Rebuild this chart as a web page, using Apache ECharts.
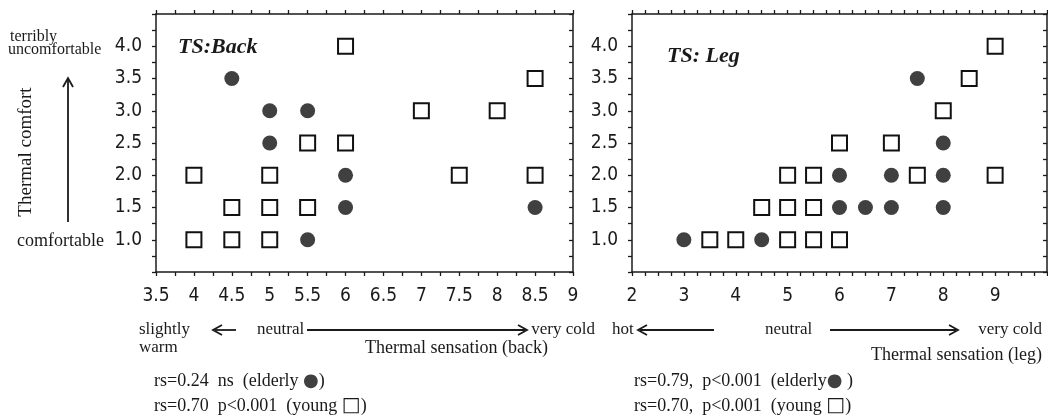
<!DOCTYPE html>
<html>
<head>
<meta charset="utf-8">
<script src="https://cdn.jsdelivr.net/npm/echarts@6/dist/echarts.min.js"></script>
<style>
  html, body { margin: 0; padding: 0; background: #fff; }
  #chart { width: 1048px; height: 418px; }
</style>
</head>
<body>
<div id="chart"></div>
<script>
// Thermal comfort (y) against thermal sensation (x), back and leg
const elderlyBack = [[4.5,3.5],[5,3.0],[5.5,3.0],[5,2.5],[6,2.0],[6,1.5],[8.5,1.5],[5.5,1.0]];
const youngBack = [[6,4.0],[8.5,3.5],[7,3.0],[8,3.0],[5.5,2.5],[6,2.5],[4,2.0],[5,2.0],[7.5,2.0],[8.5,2.0],
                   [4.5,1.5],[5,1.5],[5.5,1.5],[4,1.0],[4.5,1.0],[5,1.0]];
const elderlyLeg = [[3,1.0],[4.5,1.0],[6,1.5],[6.5,1.5],[7,1.5],[8,1.5],[6,2.0],[7,2.0],[8,2.0],[8,2.5],[7.5,3.5]];
const youngLeg = [[3.5,1.0],[4,1.0],[5,1.0],[5.5,1.0],[6,1.0],[4.5,1.5],[5,1.5],[5.5,1.5],
                  [5,2.0],[5.5,2.0],[7.5,2.0],[9,2.0],[6,2.5],[7,2.5],[8,3.0],[8.5,3.5],[9,4.0]];
const comfortRange = [0.5, 4.5];
const backRange = [3.5, 9];
const legRange = [2, 10];

const INK = '#1a1a1a';
const DOT = '#404040';
const SERIF = '"Liberation Serif", "DejaVu Serif", serif';
const NUM = '"Liberation Sans Narrow", "DejaVu Sans Condensed", sans-serif';

const chart = echarts.init(document.getElementById('chart'), null, { renderer: 'canvas' });

function xAxisDef(gridIndex, range, interval, minorSplit, position, showLabels) {
  return {
    type: 'value', gridIndex, position, min: range[0], max: range[1], interval,
    axisLine: { show: true, onZero: false, lineStyle: { color: INK, width: 1.5 } },
    axisTick: { show: true, inside: false, length: 4, lineStyle: { color: INK, width: 1.3 } },
    minorTick: { show: true, splitNumber: minorSplit, length: 4, lineStyle: { color: INK, width: 1.3 } },
    splitLine: { show: false },
    axisLabel: {
      show: showLabels, margin: 15, color: INK, fontFamily: NUM, fontSize: 19,
      showMaxLabel: range[1] !== 10, formatter: v => (v === 10 ? '' : String(v))
    }
  };
}
function yAxisDef(gridIndex, position, inside, showLabels) {
  return {
    type: 'value', gridIndex, position, min: comfortRange[0], max: comfortRange[1], interval: 0.5,
    axisLine: { show: true, onZero: false, lineStyle: { color: INK, width: 1.5 } },
    axisTick: { show: true, inside, length: 4, lineStyle: { color: INK, width: 1.3 } },
    minorTick: { show: true, splitNumber: 2, length: 4, lineStyle: { color: INK, width: 1.3 } },
    splitLine: { show: false },
    axisLabel: {
      show: showLabels, margin: 14, color: INK, fontFamily: NUM, fontSize: 19,
      formatter: v => (v < 1 || v > 4 ? '' : v.toFixed(1))
    }
  };
}

const circleStyle = { color: DOT, opacity: 1 };
const squareStyle = { color: '#fff', borderColor: '#111', borderWidth: 2, opacity: 1 };

function txt(text, x, y, size, opts) {
  return Object.assign({
    type: 'text', x, y, silent: true,
    style: Object.assign({
      text, fill: INK, fontFamily: SERIF, fontSize: size,
      align: 'left', verticalAlign: 'middle'
    }, (opts && opts.style) || {})
  }, (opts && opts.el) || {});
}
function arrow(x1, y1, x2, y2) {
  const a = Math.atan2(y2 - y1, x2 - x1), h = 9, w = 5;
  const bx = x2 - h * Math.cos(a), by = y2 - h * Math.sin(a);
  const px = -Math.sin(a) * w, py = Math.cos(a) * w;
  return [
    { type: 'line', silent: true, shape: { x1, y1, x2: x2 - 2 * Math.cos(a), y2: y2 - 2 * Math.sin(a) },
      style: { stroke: INK, lineWidth: 1.8 } },
    { type: 'polyline', silent: true,
      shape: { points: [[bx + px, by + py], [x2, y2], [bx - px, by - py]] },
      style: { stroke: INK, lineWidth: 1.8, fill: null } }
  ];
}

const option = {
  animation: false,
  backgroundColor: '#fff',
  grid: [
    { left: 156, top: 14, width: 417, height: 258 },
    { left: 632, top: 14, width: 415, height: 258 }
  ],
  xAxis: [
    xAxisDef(0, backRange, 0.5, 2, 'bottom', true),
    xAxisDef(0, backRange, 0.5, 2, 'top', false),
    xAxisDef(1, legRange, 1, 4, 'bottom', true),
    xAxisDef(1, legRange, 1, 4, 'top', false)
  ],
  yAxis: [
    yAxisDef(0, 'left', false, true),
    yAxisDef(0, 'right', true, false),
    yAxisDef(1, 'left', false, true),
    yAxisDef(1, 'right', true, false)
  ],
  series: [
    { type: 'scatter', xAxisIndex: 0, yAxisIndex: 0, data: youngBack, symbol: 'rect', symbolSize: 15, itemStyle: squareStyle },
    { type: 'scatter', xAxisIndex: 0, yAxisIndex: 0, data: elderlyBack, symbol: 'circle', symbolSize: 15, itemStyle: circleStyle },
    { type: 'scatter', xAxisIndex: 2, yAxisIndex: 2, data: youngLeg, symbol: 'rect', symbolSize: 15, itemStyle: squareStyle },
    { type: 'scatter', xAxisIndex: 2, yAxisIndex: 2, data: elderlyLeg, symbol: 'circle', symbolSize: 15, itemStyle: circleStyle }
  ],
  graphic: [
    // panel titles
    txt('TS:Back', 178, 47, 22, { style: { fontWeight: 'bold', fontStyle: 'italic' } }),
    txt('TS: Leg', 667, 56, 22, { style: { fontWeight: 'bold', fontStyle: 'italic' } }),
    // comfort axis annotations
    txt('terribly', 10, 37, 16),
    txt('uncomfortable', 8, 50, 16),
    txt('comfortable', 104, 241, 18, { style: { align: 'right' } }),
    txt('Thermal comfort', 26, 152, 19, { style: { align: 'center' }, el: { rotation: Math.PI / 2 } }),
    ...arrow(68, 222, 68, 78),
    // back sensation scale
    txt('slightly', 139, 330, 17),
    txt('warm', 139, 348, 17),
    ...arrow(236, 330, 213, 330),
    txt('neutral', 257, 330, 17),
    ...arrow(307, 330, 527, 330),
    txt('very cold', 595, 330, 17, { style: { align: 'right' } }),
    txt('Thermal sensation (back)', 548, 348, 18, { style: { align: 'right' } }),
    txt('rs=0.24  ns  (elderly {c|●})', 154, 381, 18, { style: { rich: { c: { fill: DOT, fontSize: 18, fontFamily: 'DejaVu Sans' } } } }),
    txt('rs=0.70  p<0.001  (young {s|□})', 154, 406, 18, { style: { rich: { s: { fill: INK, fontSize: 20, fontFamily: 'DejaVu Sans' } } } }),
    // leg sensation scale
    txt('hot', 612, 330, 17),
    ...arrow(714, 330, 638, 330),
    txt('neutral', 765, 330, 17),
    ...arrow(830, 330, 958, 330),
    txt('very cold', 1042, 330, 17, { style: { align: 'right' } }),
    txt('Thermal sensation (leg)', 1042, 355, 18, { style: { align: 'right' } }),
    txt('rs=0.79,  p<0.001  (elderly{c|●} )', 634, 381, 18, { style: { rich: { c: { fill: DOT, fontSize: 18, fontFamily: 'DejaVu Sans' } } } }),
    txt('rs=0.70,  p<0.001  (young {s|□})', 634, 406, 18, { style: { rich: { s: { fill: INK, fontSize: 20, fontFamily: 'DejaVu Sans' } } } })
  ]
};

chart.setOption(option);
</script>
</body>
</html>
